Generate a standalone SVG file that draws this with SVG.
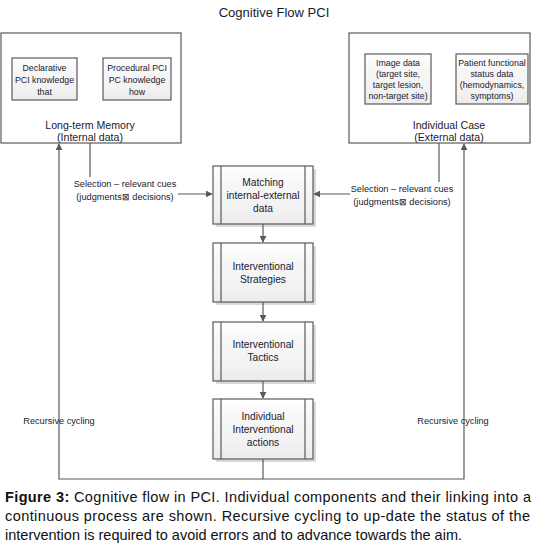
<svg xmlns="http://www.w3.org/2000/svg" width="535" height="547" viewBox="0 0 535 547">
<defs>
<linearGradient id="g" x1="0" y1="0" x2="0" y2="1">
<stop offset="0" stop-color="#ffffff"/>
<stop offset="0.3" stop-color="#f7f7f7"/>
<stop offset="0.75" stop-color="#f2f2f2"/>
<stop offset="1" stop-color="#ebebeb"/>
</linearGradient>
<marker id="ah" viewBox="0 0 10 10" refX="9" refY="5" markerWidth="7" markerHeight="7" markerUnits="userSpaceOnUse" orient="auto">
<path d="M0,0 L10,5 L0,10 z" fill="#595959"/>
</marker>
<style>
.big{fill:#fff;stroke:#5a5a5a;stroke-width:1.2}
.sm{fill:url(#g);stroke:#5a5a5a;stroke-width:1.2}
.sh{fill:#d9d9d9}
.ln{fill:none;stroke:#5a5a5a;stroke-width:1.2}
.t{font-family:"Liberation Sans",Arial,sans-serif;fill:#1a1a2e;text-anchor:middle}
.s8{font-size:8.8px}
.s85{font-size:9.2px}
.s9{font-size:10.2px}
.s10{font-size:10.6px}
.cap{font-family:"Liberation Sans",Arial,sans-serif;font-size:14.5px;fill:#111}
</style>
</defs>
<rect width="535" height="547" fill="#fff"/>
<text class="t" x="274" y="17" style="font-size:13px">Cognitive Flow PCI</text>

<g id="ltm">
<rect class="big" x="1" y="33" width="180" height="110"/>
<text class="t s10" x="90" y="129">Long-term Memory</text>
<text class="t s10" x="90" y="141">(Internal data)</text>
</g>
<g id="declarative">
<rect class="sm" x="12" y="58" width="65" height="42"/>
<text class="t s8" x="44.5" y="71">Declarative</text>
<text class="t s8" x="44.5" y="83">PCI knowledge</text>
<text class="t s8" x="44.5" y="95">that</text>
</g>
<g id="procedural">
<rect class="sm" x="103" y="58" width="68" height="42"/>
<text class="t s8" x="137" y="71">Procedural PCI</text>
<text class="t s8" x="137" y="83">PC knowledge</text>
<text class="t s8" x="137" y="95">how</text>
</g>

<g id="case">
<rect class="big" x="349" y="33" width="181" height="110"/>
<text class="t s10" x="449" y="129">Individual Case</text>
<text class="t s10" x="449" y="141">(External data)</text>
</g>
<g id="image">
<rect class="sm" x="365" y="54" width="66" height="50"/>
<text class="t s8" x="398" y="66">Image data</text>
<text class="t s8" x="398" y="77">(target site,</text>
<text class="t s8" x="398" y="88">target lesion,</text>
<text class="t s8" x="398" y="99">non-target site)</text>
</g>
<g id="patient">
<rect class="sm" x="456" y="54" width="72" height="50"/>
<text class="t s8" x="492" y="66">Patient functional</text>
<text class="t s8" x="492" y="77">status data</text>
<text class="t s8" x="492" y="88">(hemodynamics,</text>
<text class="t s8" x="492" y="99">symptoms)</text>
</g>

<g id="matching">
<rect class="sh" x="216" y="169" width="100" height="58"/>
<rect class="sm" x="213" y="166" width="100" height="58"/>
<line class="ln" x1="221" y1="166" x2="221" y2="224"/>
<line class="ln" x1="305" y1="166" x2="305" y2="224"/>
<text class="t s9" x="263" y="186">Matching</text>
<text class="t s9" x="263" y="199">internal-external</text>
<text class="t s9" x="263" y="212">data</text>
</g>
<g id="strategies">
<rect class="sh" x="216" y="246" width="100" height="59"/>
<rect class="sm" x="213" y="243" width="100" height="59"/>
<line class="ln" x1="221" y1="243" x2="221" y2="302"/>
<line class="ln" x1="305" y1="243" x2="305" y2="302"/>
<text class="t s9" x="263" y="270">Interventional</text>
<text class="t s9" x="263" y="283">Strategies</text>
</g>
<g id="tactics">
<rect class="sh" x="216" y="325" width="100" height="59"/>
<rect class="sm" x="213" y="322" width="100" height="59"/>
<line class="ln" x1="221" y1="322" x2="221" y2="381"/>
<line class="ln" x1="305" y1="322" x2="305" y2="381"/>
<text class="t s9" x="263" y="348">Interventional</text>
<text class="t s9" x="263" y="361">Tactics</text>
</g>
<g id="actions">
<rect class="sh" x="216" y="402" width="100" height="60"/>
<rect class="sm" x="213" y="399" width="100" height="60"/>
<line class="ln" x1="221" y1="399" x2="221" y2="459"/>
<line class="ln" x1="305" y1="399" x2="305" y2="459"/>
<text class="t s9" x="263" y="420">Individual</text>
<text class="t s9" x="263" y="433">Interventional</text>
<text class="t s9" x="263" y="446">actions</text>
</g>

<g id="connectors">
<line class="ln" x1="90" y1="143" x2="90" y2="177"/>
<line class="ln" x1="178" y1="194" x2="212" y2="194" marker-end="url(#ah)"/>
<line class="ln" x1="439" y1="143" x2="439" y2="182"/>
<line class="ln" x1="350" y1="194" x2="314" y2="194" marker-end="url(#ah)"/>
<line class="ln" x1="263" y1="224" x2="263" y2="242" marker-end="url(#ah)"/>
<line class="ln" x1="263" y1="302" x2="263" y2="321" marker-end="url(#ah)"/>
<line class="ln" x1="263" y1="381" x2="263" y2="398" marker-end="url(#ah)"/>
<polyline class="ln" points="263,459 263,479 59,479 59,144" marker-end="url(#ah)"/>
<polyline class="ln" points="263,479 464,479 464,144" marker-end="url(#ah)"/>
</g>

<text class="t s85" x="125" y="187">Selection – relevant cues</text>
<text class="t s85" x="125" y="200">(judgments⊠  decisions)</text>
<text class="t s85" x="402" y="192">Selection – relevant cues</text>
<text class="t s85" x="402" y="205">(judgments⊠  decisions)</text>
<text class="t s85" x="59" y="424">Recursive cycling</text>
<text class="t s85" x="453" y="424">Recursive cycling</text>

<text class="cap" x="5" y="502" textLength="526" lengthAdjust="spacing"><tspan font-weight="bold">Figure 3:</tspan> Cognitive flow in PCI. Individual components and their linking into a</text>
<text class="cap" x="5" y="521" textLength="525" lengthAdjust="spacing">continuous process are shown. Recursive cycling to up-date the status of the</text>
<text class="cap" x="5" y="540">intervention is required to avoid errors and to advance towards the aim.</text>
</svg>
